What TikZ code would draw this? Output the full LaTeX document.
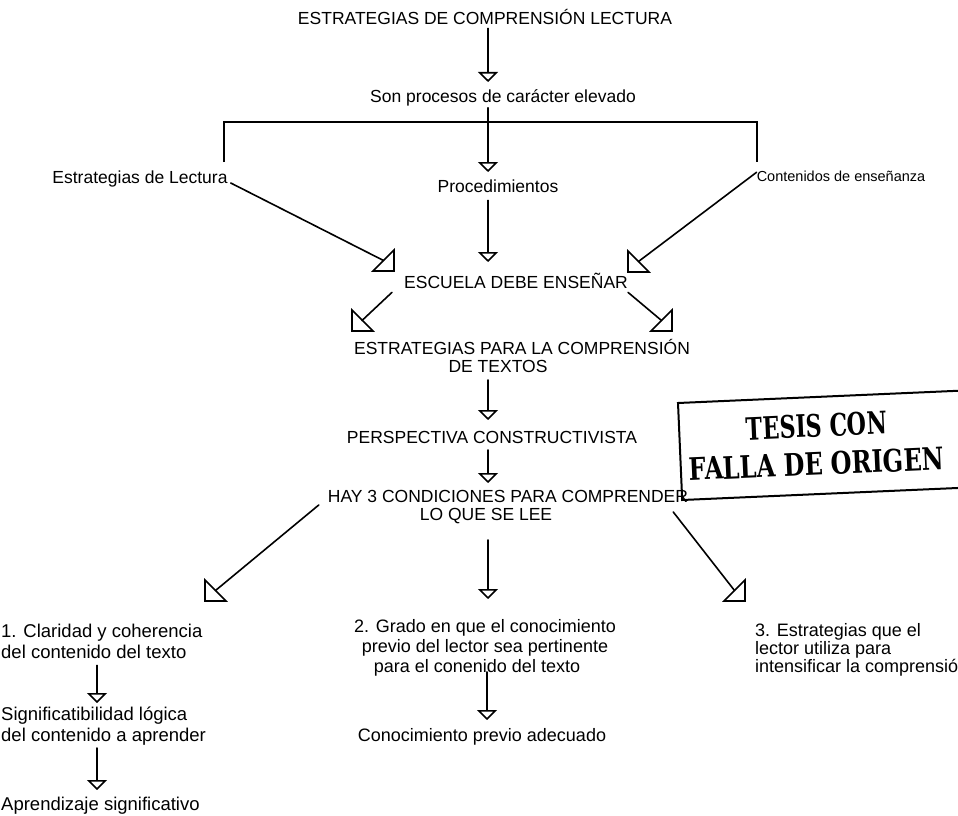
\documentclass[tikz,border=0pt]{standalone}
\usepackage{fontspec}
\usepackage{graphicx}
\setmainfont{Liberation Sans}
\newfontfamily\stampfont{DejaVu Serif}
\usetikzlibrary{arrows.meta}

\tikzset{
  txt/.style={inner sep=0pt, anchor=base, font=\fontsize{17.5}{18}\selectfont},
  lowtxt/.style={inner sep=0pt, anchor=base west, align=left, font=\fontsize{18}{20.5}\selectfont},
  conn/.style={line width=1.6pt, line cap=round},
  vhead/.style={conn, -{Triangle[open, length=10pt, width=20pt, line width=1.6pt]}},
  stampline/.style={line width=2pt},
  stamptxt/.style={inner sep=0pt, anchor=base, rotate=2.5},
  headBR/.pic={\draw[line width=1.6pt, line join=miter] (0,0) -- (0,-21) -- (-21,0) -- cycle;},
  headBL/.pic={\draw[line width=1.6pt, line join=miter] (0,0) -- (0,-21) -- (21,0) -- cycle;},
}

\begin{document}
\begin{tikzpicture}[x=1pt, y=-1pt]
\useasboundingbox (0,0) rectangle (958,816);
\fill[white] (0,0) rectangle (958,816);
\clip (0,0) rectangle (958,816);

% --- upper chain -------------------------------------------------------
\node[txt] (title) at (485,25) {ESTRATEGIAS DE COMPRENSIÓN LECTURA};
\node[txt] (son) at (503,102) {Son procesos de carácter elevado};
\coordinate (tipSon) at (488,82);
\draw[vhead] ([yshift=-3pt]title.south -| tipSon) -- (tipSon);

% bracket over the three branches
\coordinate (brL) at (224,162);
\coordinate (brLt) at (224,122);
\coordinate (brRt) at (757,122);
\coordinate (brRb) at (757,162);
\draw[conn, line cap=butt, line join=miter] (brL) -- (brLt) -- (brRt) -- (brRb);

\node[txt] (lect) at (140,183) {Estrategias de Lectura};
\node[txt] (proc) at (498,192) {Procedimientos};
\node[txt, font=\fontsize{14.5}{16}\selectfont] (cont) at (841,181) {Contenidos de enseñanza};

\coordinate (tipProc) at (488,172);
\draw[vhead] ([yshift=-2pt]son.south -| tipProc) -- (tipProc);

% converging on ESCUELA DEBE ENSEÑAR
\node[txt] (esc) at (516,288) {ESCUELA DEBE ENSEÑAR};
\coordinate (tipEsc) at (488,262);
\draw[vhead] ([yshift=-8pt]proc.south -| tipEsc) -- (tipEsc);

\coordinate (hLect) at (383.5,260.5);
\draw[conn] ([xshift=3pt]lect.base east) -- (hLect);
\pic at (394,271) {headBR};

\coordinate (hCont) at (638.5,261.5);
\draw[conn] ([yshift=-2pt]cont.north west) -- (hCont);
\pic at (628,272) {headBL};

% ESCUELA DEBE ENSEÑAR splits
\node[txt] (ep1) at (522,354) {ESTRATEGIAS PARA LA COMPRENSIÓN};
\node[txt] (ep2) at (498,372) {DE TEXTOS};

\coordinate (hEscL) at (362,320.5);
\draw[conn] ([xshift=-12pt,yshift=-4pt]esc.south west) -- (hEscL);
\pic at (352,331) {headBL};

\coordinate (hEscR) at (661.5,320.5);
\draw[conn] ([yshift=-4pt]esc.south east) -- (hEscR);
\pic at (672,331) {headBR};

\node[txt] (persp) at (492,443) {PERSPECTIVA CONSTRUCTIVISTA};
\coordinate (tipPersp) at (488,420);
\draw[vhead] ([yshift=-8pt]ep2.base -| tipPersp) -- (tipPersp);

\node[txt] (hay1) at (508,502) {HAY 3 CONDICIONES PARA COMPRENDER};
\node[txt] (hay2) at (486,520) {LO QUE SE LEE};
\coordinate (tipHay) at (488,483);
\draw[vhead] ([yshift=-7pt]persp.base -| tipHay) -- (tipHay);

% --- stamp ---------------------------------------------------------------
\coordinate (stTR) at (962,390.6);
\coordinate (stTL) at (678,403);
\coordinate (stBL) at (682.2,500);
\coordinate (stBR) at (962,487.8);
\draw[stampline] (stTR) -- (stTL) -- (stBL) -- (stBR);
\node[stamptxt] (tesis) at (817,437)
  {\scalebox{0.715}[1]{\fontsize{31}{34}\stampfont\bfseries TESIS CON}};
\node[stamptxt] (falla) at (817,475)
  {\scalebox{0.775}[1]{\fontsize{31}{34}\stampfont\bfseries FALLA DE ORIGEN}};

% --- three conditions ----------------------------------------------------
\coordinate (hHayL) at (215.5,590.5);
\draw[conn] ([xshift=-9pt,yshift=-3pt]hay1.base west) -- (hHayL);
\pic at (205,601) {headBL};

\coordinate (tipHayM) at (488,599);
\draw[vhead] ([yshift=-20pt]hay2.base -| tipHayM) -- (tipHayM);

\coordinate (hHayR) at (734.5,590.5);
\draw[conn] ([xshift=-15pt,yshift=-10pt]hay1.base east) -- (hHayR);
\pic at (745,601) {headBR};

% left column (base anchor sits on the last line)
\node[lowtxt, font=\fontsize{18.5}{21}\selectfont] (cl1) at (1,658)
  {1. Claridad y coherencia\\del contenido del texto};
\coordinate (tipCl1) at (97,703);
\draw[vhead] ([yshift=-7pt]cl1.south -| tipCl1) -- (tipCl1);

\node[lowtxt, font=\fontsize{18.5}{20.5}\selectfont] (cl2) at (1,741)
  {Significatibilidad lógica\\del contenido a aprender};
\coordinate (tipCl2) at (97,790);
\draw[vhead] ([yshift=-3pt]cl2.south -| tipCl2) -- (tipCl2);

\node[lowtxt, font=\fontsize{18.5}{20.5}\selectfont] (cl3) at (1,810) {Aprendizaje significativo};

% middle column
\node[inner sep=0pt, anchor=base, align=center, font=\fontsize{18}{20}\selectfont] (gr1) at (485,672)
  {2. Grado en que el conocimiento\\previo del lector sea pertinente\\para el conenido del texto\hspace*{16pt}};
\coordinate (tipGr) at (487,720);
\draw[vhead] ([yshift=4pt]gr1.south -| tipGr) -- (tipGr);
\node[txt, font=\fontsize{18}{20}\selectfont] (gr2) at (482,741) {Conocimiento previo adecuado};

% right column
\node[lowtxt, font=\fontsize{18}{18}\selectfont] (es1) at (755,672)
  {3. Estrategias que el\\lector utiliza para\\intensificar la comprensión};
\end{tikzpicture}
\end{document}
